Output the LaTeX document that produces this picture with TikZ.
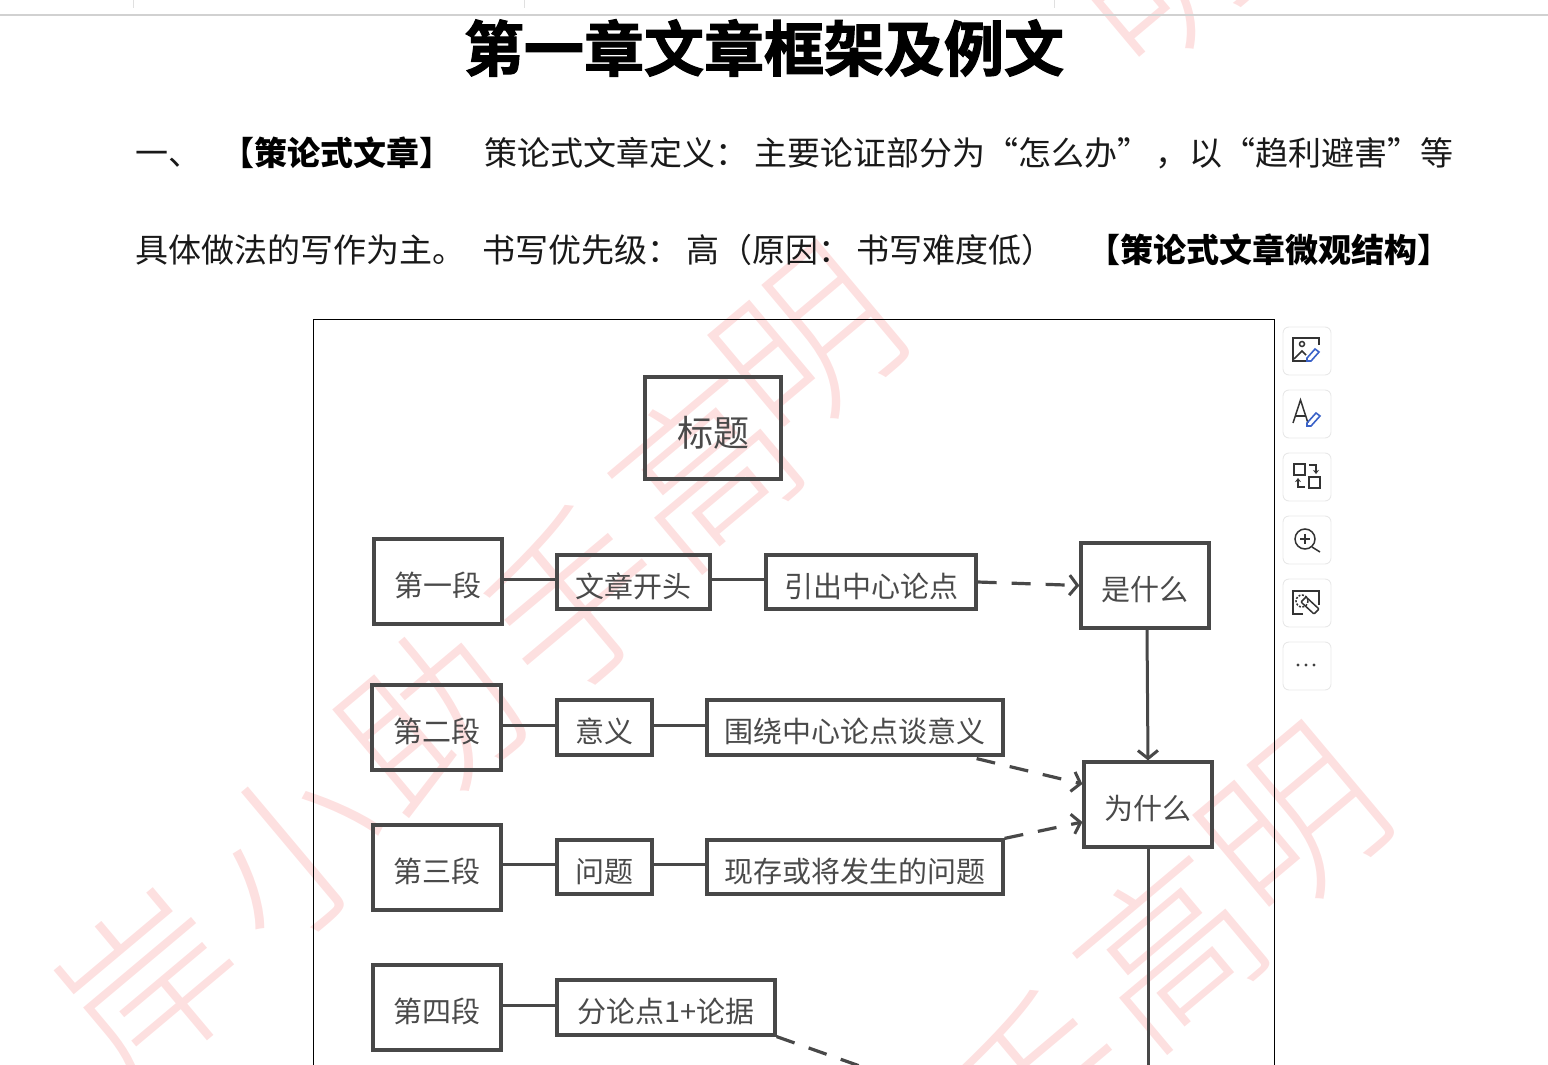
\documentclass[tikz,border=0pt]{standalone}
\usepackage{fontspec}
\setmainfont{Noto Sans CJK SC}
\newfontfamily\titlefont[FakeBold=2]{Noto Sans CJK SC Bold}
\newfontfamily\markfont{Noto Sans CJK SC Light}
\usetikzlibrary{arrows.meta}

\definecolor{boxgray}{HTML}{484848}
\definecolor{labelgray}{HTML}{4A4A4A}
\definecolor{markpink}{HTML}{FDE0E0}
\definecolor{iconblue}{HTML}{3A62C8}

\tikzset{
    secbox/.style={draw=boxgray, line width=3.2pt, inner sep=0pt, text=labelgray, text height=30pt, text depth=0pt, font=\fontsize{29}{29}\selectfont},
    line1/.style={anchor=base west, inner sep=0pt, text=black!90, font=\fontsize{33}{33}\selectfont},
    line1b/.style={anchor=base west, inner sep=0pt, text=black, font=\fontsize{33}{33}\selectfont\bfseries},
    mark1/.style={inner sep=0pt, text=markpink, rotate=40, font=\fontsize{175}{175}\markfont},
    link/.style={draw=boxgray, line width=3pt},
    dashlink/.style={draw=boxgray, line width=3.2pt, dash pattern=on 19pt off 15pt, ->},
    iconbtn/.style={draw=black!9, line width=0.9pt, rounded corners=6pt},
    iconline/.style={draw=black!80, line width=1.5pt},
    iconpen/.style={draw=iconblue, line width=1.6pt},
    >={Straight Barb[length=8pt,width=20pt,line width=3pt]}
}

\begin{document}
\begin{tikzpicture}[x=1pt,y=-1pt]
    \useasboundingbox (0,0) rectangle (1548,1065);
    \clip (0,0) rectangle (1548,1065);

    % watermark
    \node[mark1] (w1) at (150,985) {岸};
    \node[mark1] (w2) at (295,850) {小};
    \node[mark1] (w3) at (430,720) {助};
    \node[mark1] (w4) at (575,600) {手};
    \node[mark1] (w5) at (705,470) {高};
    \node[mark1] (w6) at (810,345) {明};
    \node[mark1] (w7) at (1040,1085) {手};
    \node[mark1] (w8) at (1170,950) {高};
    \node[mark1] (w9) at (1295,825) {明};
    \node[mark1] (w10) at (1165,-25) {明};

    % top bar
    \fill[black!18] (0,14) rectangle (1548,16);
    \foreach \x in {133.5,524,1054.5}
        \draw[black!12] (\x,0) -- (\x,8);

    % heading and paragraph
    \node[inner sep=0pt] (title) at (764,48) {\fontsize{60}{60}\titlefont 第一章文章框架及例文};

    \node[line1] (a1) at (135,165) {一、};
    \node[line1b] (a2) at (221,165) {【策论式文章】};
    \node[line1] (a3) at (484,165) {策论式文章定义：};
    \node[line1] (a4) at (754,165) {主要论证部分为“怎么办”};
    \node[line1] (a5) at (1155,165) {，};
    \node[line1] (a6) at (1189,165) {以“趋利避害”等};

    \node[line1] (b1) at (135,262) {具体做法的写作为主。};
    \node[line1] (b2) at (482,262) {书写优先级：};
    \node[line1] (b3) at (686,262) {高（原因：};
    \node[line1] (b4) at (856,262) {书写难度低）};
    \node[line1b] (b5) at (1087,262) {【策论式文章微观结构】};

    % picture frame
    \draw[black, line width=0.8pt] (313.5,1070) -- (313.5,319.5) -- (1274.5,319.5) -- (1274.5,1070);

    % boxes
    \node[secbox, minimum width=136pt, minimum height=102pt, text height=36pt, font=\fontsize{36}{36}\selectfont] (biaoti) at (713,428) {标题};

    \node[secbox, minimum width=128pt, minimum height=85pt] (duan1) at (438,581.5) {第一段};
    \node[secbox, minimum width=153pt, minimum height=54pt] (open) at (633.5,582) {文章开头};
    \node[secbox, minimum width=210pt, minimum height=54pt] (yinchu) at (871,582) {引出中心论点};
    \node[secbox, minimum width=128pt, minimum height=85pt] (shi) at (1145,585.5) {是什么};

    \node[secbox, minimum width=129pt, minimum height=85pt] (duan2) at (436.5,727.5) {第二段};
    \node[secbox, minimum width=95pt, minimum height=55pt] (yiyi) at (604.5,727.5) {意义};
    \node[secbox, minimum width=296pt, minimum height=55pt] (weirao) at (855,727.5) {围绕中心论点谈意义};
    \node[secbox, minimum width=128pt, minimum height=85pt] (wei) at (1148,804.5) {为什么};

    \node[secbox, minimum width=128pt, minimum height=85pt] (duan3) at (437,867.5) {第三段};
    \node[secbox, minimum width=95pt, minimum height=54pt] (wenti) at (604.5,867) {问题};
    \node[secbox, minimum width=296pt, minimum height=54pt] (xiancun) at (855,867) {现存或将发生的问题};

    \node[secbox, minimum width=128pt, minimum height=85pt] (duan4) at (437,1007.5) {第四段};
    \node[secbox, minimum width=218pt, minimum height=55pt] (fen) at (666,1007.5) {分论点1+论据};

    % free ends below the crop
    \coordinate (down4) at (905,1082);
    \coordinate (downwei) at (1148,1075);

    % connectors
    \draw[link] ([yshift=2.5pt]duan1.east |- open.west) -- ([yshift=2.5pt]open.west);
    \draw[link] ([yshift=2.5pt]open.east) -- ([yshift=2.5pt]yinchu.west);
    \draw[link] ([yshift=2.5pt]duan2.east |- yiyi.west) -- ([yshift=2.5pt]yiyi.west);
    \draw[link] ([yshift=2.5pt]yiyi.east) -- ([yshift=2.5pt]weirao.west);
    \draw[link] ([yshift=2.5pt]duan3.east |- wenti.west) -- ([yshift=2.5pt]wenti.west);
    \draw[link] ([yshift=2.5pt]wenti.east) -- ([yshift=2.5pt]xiancun.west);
    \draw[link] ([yshift=2.5pt]duan4.east |- fen.west) -- ([yshift=2.5pt]fen.west);

    \draw[dashlink] (yinchu.east) -- (shi.west);
    \draw[dashlink] (weirao.south east) ++(-28,2) -- (wei.west |- 0,784);
    \draw[dashlink] (xiancun.north east) -- (wei.west |- 0,822);
    \draw[dashlink, -] (fen.south east) -- (down4);
    \draw[link, ->] (shi.south) ++(2,0) -- (wei.north);
    \draw[link] (wei.south) -- (downwei);

    % side buttons
    \foreach \y in {327,390,453,516,579,642}
        \draw[iconbtn] (1283,\y) rectangle (1331,\y+48);

    % edit picture
    \draw[iconline] (1306,361) -- (1293,361) -- (1293,338) -- (1319,338) -- (1319,345);
    \draw[iconline] (1302,344) circle (2.5);
    \draw[iconline] (1294,359) -- (1302,351) -- (1306,355);
    \draw[iconpen] (1307,358) -- (1315,349) -- (1319,352) -- (1311,361) -- (1307,361) -- cycle;

    % edit text
    \draw[iconline] (1293,423) -- (1300.5,400) -- (1308,423);
    \draw[iconline] (1296,416) -- (1305,416);
    \draw[iconpen] (1307,423) -- (1316,413) -- (1320,416) -- (1311,426) -- (1307,426) -- cycle;

    % swap
    \draw[iconline] (1294,464) rectangle (1305,475);
    \draw[iconline] (1309,477) rectangle (1320,488);
    \draw[iconline, -{Stealth[length=4pt,width=6pt]}] (1309,465) -- (1316,465) -- (1316,474);
    \draw[iconline, -{Stealth[length=4pt,width=6pt]}] (1305,487) -- (1298,487) -- (1298,478);

    % zoom
    \draw[iconline] (1305,539) circle (10);
    \draw[iconline] (1312,547) -- (1320,552);
    \draw[iconline] (1300,539) -- (1310,539);
    \draw[iconline] (1305,534) -- (1305,544);

    % select
    \draw[iconline] (1303,614) -- (1293,614) -- (1293,591) -- (1319,591) -- (1319,605);
    \draw[iconline, dash pattern=on 2pt off 1.5pt] (1302,601) circle (6);
    \draw[iconline, rounded corners=1pt] (1301,602) -- (1306,597) -- (1319,609) -- (1314,614) -- cycle;

    % more
    \foreach \x in {1298,1306,1314}
        \fill[black!75] (\x,665) circle (1.7);
\end{tikzpicture}
\end{document}
